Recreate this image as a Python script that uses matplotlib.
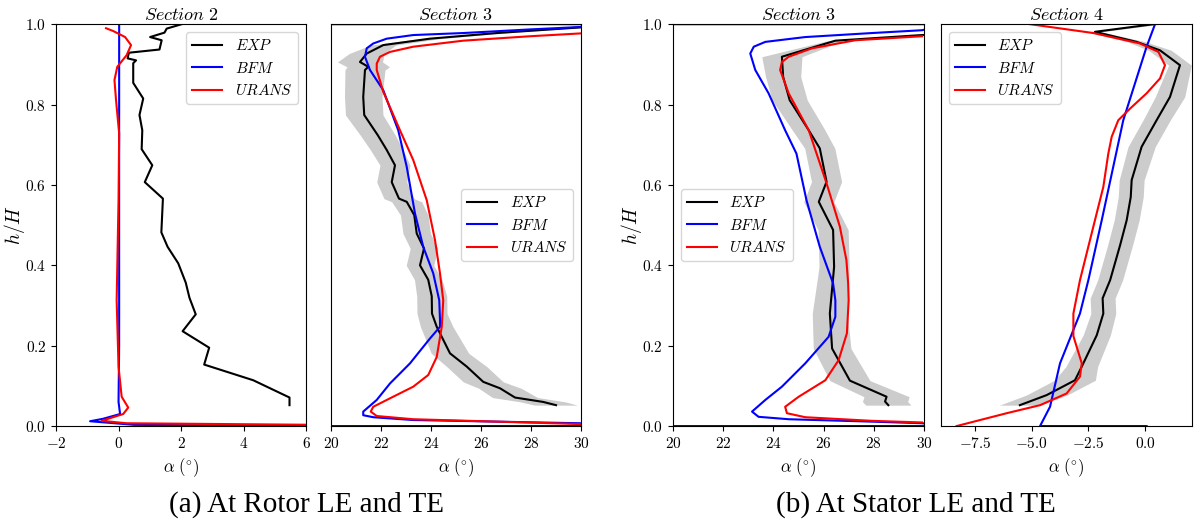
import numpy as np
import matplotlib
matplotlib.use('Agg')
import matplotlib.pyplot as plt

plt.rcParams['font.family'] = 'serif'
plt.rcParams['font.serif'] = ['cmr10']
plt.rcParams['mathtext.fontset'] = 'cm'
plt.rcParams['axes.formatter.use_mathtext'] = True
plt.rcParams['axes.unicode_minus'] = True

# ---- Section 2 (rotor LE) ----
s2_exp_x = [5.47, 5.47, 4.31, 2.74, 2.90, 2.05, 2.47, 2.27, 2.15, 1.91, 1.57, 1.37, 1.42, 0.84,
            1.08, 0.74, 0.76, 0.67, 0.79, 0.47, 0.47, 0.56, 0.29, 0.33, 1.31, 1.38, 1.01, 1.47,
            1.54, 2.02]
s2_exp_y = [0.052, 0.071, 0.114, 0.153, 0.195, 0.236, 0.278, 0.319, 0.357, 0.405, 0.446, 0.482,
            0.566, 0.607, 0.649, 0.689, 0.736, 0.774, 0.815, 0.854, 0.903, 0.910, 0.915, 0.929,
            0.937, 0.960, 0.968, 0.979, 0.989, 1.0]
s2_bfm_x = [6.5, 0.5, -0.91, -0.5, 0.05, 0.0, 0.02, 0.02]
s2_bfm_y = [0.0, 0.003, 0.012, 0.018, 0.03, 0.06, 0.2, 1.0]
s2_urans_x = [6.5, 0.26, -0.54, 0.15, 0.31, 0.10, 0.0, -0.06, 0.0, 0.02, -0.08, -0.13, -0.04,
              0.26, 0.40, 0.21, -0.17, -0.40]
s2_urans_y = [0.003, 0.007, 0.013, 0.030, 0.046, 0.073, 0.148, 0.313, 0.562, 0.728, 0.811,
              0.861, 0.894, 0.923, 0.948, 0.968, 0.983, 0.99]

# ---- Section 3 (rotor TE) ----
s3r_exp_x = [29.0, 28.49, 27.36, 26.76, 26.09, 25.43, 24.76, 24.23, 24.04, 24.03, 23.89, 23.56,
             23.72, 23.43, 23.33, 23.03, 22.72, 22.43, 22.56, 22.23, 21.87, 21.33, 21.29, 21.36,
             21.49, 21.16, 21.43, 22.09, 23.96, 26.63, 29.96, 31.0]
s3r_exp_y = [0.052, 0.060, 0.071, 0.094, 0.110, 0.148, 0.181, 0.247, 0.280, 0.323, 0.364, 0.400,
             0.442, 0.479, 0.525, 0.558, 0.566, 0.607, 0.649, 0.687, 0.724, 0.774, 0.819, 0.886,
             0.894, 0.906, 0.927, 0.948, 0.964, 0.978, 0.992, 0.995]
s3r_exp_err = [0.85, 0.9, 0.9, 0.85, 0.8, 0.8, 0.75, 0.65, 0.6, 0.6, 0.55, 0.55, 0.55, 0.55, 0.55,
               0.6, 0.6, 0.6, 0.6, 0.65, 0.7, 0.75, 0.75, 0.8, 0.85, 0.9, 0.7, 0.5, 0.4, 0.3,
               0.2, 0.2]
s3r_bfm_x = [19.0, 31.0, 29.96, 26.63, 23.29, 21.69, 21.29, 21.29, 21.83, 22.36, 23.16, 23.96,
             24.36, 24.36, 24.33, 24.09, 23.69, 23.36, 23.03, 22.69, 22.09, 21.56, 21.36, 21.43,
             21.69, 22.23, 23.29, 25.29, 27.96, 29.96, 31.0, 19.0]
s3r_bfm_y = [0.0, 0.0, 0.007, 0.011, 0.015, 0.022, 0.027, 0.036, 0.065, 0.106, 0.156, 0.218,
             0.247, 0.264, 0.313, 0.380, 0.446, 0.529, 0.645, 0.736, 0.836, 0.886, 0.919, 0.940,
             0.952, 0.964, 0.973, 0.978, 0.987, 0.993, 1.0, 1.0]
s3r_urans_x = [29.96, 26.63, 23.29, 21.83, 21.59, 21.69, 22.36, 23.29, 23.89, 24.23, 24.43, 24.49,
               24.36, 24.16, 23.83, 23.29, 22.76, 22.09, 21.83, 21.83, 21.96, 22.36, 23.29, 25.29,
               27.96, 29.96]
s3r_urans_y = [0.005, 0.011, 0.017, 0.025, 0.036, 0.048, 0.069, 0.098, 0.127, 0.172, 0.247,
               0.313, 0.380, 0.463, 0.562, 0.662, 0.736, 0.832, 0.886, 0.902, 0.919, 0.931,
               0.944, 0.959, 0.970, 0.977]

# ---- Section 3 (stator LE) ----
s3s_exp_x = [28.58, 28.45, 28.51, 27.05, 26.34, 26.25, 26.42, 26.38, 25.81, 26.12, 25.85, 25.41,
             24.65, 24.39, 24.34, 26.47, 29.92, 31.0]
s3s_exp_y = [0.052, 0.061, 0.073, 0.113, 0.193, 0.280, 0.396, 0.488, 0.558, 0.608, 0.691, 0.736,
             0.811, 0.869, 0.919, 0.959, 0.973, 0.975]
s3s_exp_err = [0.9, 0.9, 0.9, 0.8, 0.75, 0.7, 0.6, 0.6, 0.6, 0.6, 0.6, 0.65, 0.7, 0.7, 0.8, 0.3,
               0.2, 0.2]
s3s_bfm_x = [19.0, 31.0, 29.92, 27.93, 24.61, 23.41, 23.15, 23.68, 24.34, 25.27, 26.20, 26.47,
             26.47, 26.38, 25.85, 25.32, 24.92, 24.47, 23.81, 23.28, 23.08, 23.22, 23.68, 25.27,
             27.93, 29.92, 31.0, 19.0]
s3s_bfm_y = [0.0, 0.0, 0.007, 0.011, 0.017, 0.023, 0.036, 0.065, 0.098, 0.156, 0.222, 0.272,
             0.313, 0.355, 0.446, 0.562, 0.678, 0.736, 0.828, 0.886, 0.927, 0.944, 0.956, 0.968,
             0.978, 0.985, 1.0, 1.0]
s3s_urans_x = [29.92, 27.93, 25.27, 24.54, 24.47, 25.01, 26.07, 26.60, 26.93, 27.0, 26.98, 26.91,
               26.65, 26.12, 25.41, 24.61, 24.27, 24.34, 24.61, 25.54, 27.26, 29.92]
s3s_urans_y = [0.009, 0.013, 0.022, 0.032, 0.048, 0.073, 0.114, 0.164, 0.231, 0.313, 0.355,
               0.413, 0.496, 0.604, 0.736, 0.828, 0.886, 0.906, 0.919, 0.940, 0.960, 0.970]

# ---- Section 4 (stator TE) ----
s4_exp_x = [-5.52, -4.34, -3.09, -2.79, -2.13, -1.84, -1.87, -1.54, -1.10, -0.81, -0.63, -0.59,
            -0.15, 0.51, 1.10, 1.54, 0.66, -0.37, -2.21, 0.37]
s4_exp_y = [0.052, 0.077, 0.114, 0.148, 0.226, 0.280, 0.318, 0.363, 0.450, 0.512, 0.570, 0.612,
            0.695, 0.761, 0.819, 0.898, 0.935, 0.956, 0.981, 1.0]
s4_exp_err = [0.9, 0.9, 0.9, 0.7, 0.6, 0.55, 0.55, 0.55, 0.55, 0.55, 0.55, 0.55, 0.6, 0.6, 0.65,
              0.5, 0.5, 0.4, 0.3, 0.3]
s4_bfm_x = [0.07, -4.63, -4.19, -3.75, -2.87, -2.50, -1.91, -0.96, 0.07, 0.44]
s4_bfm_y = [0.0, 0.0, 0.048, 0.156, 0.280, 0.363, 0.512, 0.761, 0.944, 1.0]
s4_urans_x = [-8.31, -6.10, -4.63, -3.46, -2.87, -2.79, -3.16, -3.16, -2.87, -2.21, -1.84, -1.62,
              -1.47, -1.18, -0.66, 0.07, 0.66, 0.88, 0.59, -0.22, -2.28, -5.07]
s4_urans_y = [0.0, 0.032, 0.052, 0.081, 0.123, 0.156, 0.224, 0.280, 0.363, 0.512, 0.595, 0.678,
              0.720, 0.761, 0.790, 0.828, 0.865, 0.898, 0.931, 0.952, 0.978, 1.0]

fig = plt.figure(figsize=(11.97, 5.26), dpi=100)
bot, hgt = 0.190, 0.764
ax1 = fig.add_axes([0.0468, bot, 0.2089, hgt])
ax2 = fig.add_axes([0.2765, bot, 0.2089, hgt])
ax3 = fig.add_axes([0.5622, bot, 0.2097, hgt])
ax4 = fig.add_axes([0.7861, bot, 0.2097, hgt])

panels = [
    (ax1, r'$Section\ 2$', s2_exp_x, s2_exp_y, None, s2_bfm_x, s2_bfm_y, s2_urans_x, s2_urans_y,
     (-2, 6), 'upper right'),
    (ax2, r'$Section\ 3$', s3r_exp_x, s3r_exp_y, s3r_exp_err, s3r_bfm_x, s3r_bfm_y, s3r_urans_x,
     s3r_urans_y, (20, 30), 'center right'),
    (ax3, r'$Section\ 3$', s3s_exp_x, s3s_exp_y, s3s_exp_err, s3s_bfm_x, s3s_bfm_y, s3s_urans_x,
     s3s_urans_y, (20, 30), 'center left'),
    (ax4, r'$Section\ 4$', s4_exp_x, s4_exp_y, s4_exp_err, s4_bfm_x, s4_bfm_y, s4_urans_x,
     s4_urans_y, (-9.0, 2.07), 'upper left'),
]

for ax, title, ex, ey, err, bx, by, ux, uy, xl, loc in panels:
    if err is not None:
        ex_a = np.array(ex)
        er_a = np.array(err)
        ax.fill_betweenx(ey, ex_a - er_a, ex_a + er_a, color='#cccccc', lw=0)
    ax.plot(ex, ey, color='k', lw=1.5, label=r'$EXP$')
    ax.plot(bx, by, color='b', lw=1.5, label=r'$BFM$')
    ax.plot(ux, uy, color='r', lw=1.5, label=r'$URANS$')
    ax.set_xlim(xl)
    ax.set_ylim(0, 1)
    ax.set_title(title, fontsize=13, pad=3)
    ax.set_xlabel(r'$\alpha\ (^{\circ})$', fontsize=12)
    ax.tick_params(labelsize=11)
    ax.legend(loc=loc, fontsize=11)

for ax in (ax1, ax3):
    ax.set_ylabel(r'$h/H$', fontsize=14)
    ax.yaxis.set_label_coords(-0.115, 0.5)
for ax in (ax2, ax4):
    ax.tick_params(left=False, labelleft=False)

ax1.set_xticks([-2, 0, 2, 4, 6])
ax2.set_xticks([20, 22, 24, 26, 28, 30])
ax3.set_xticks([20, 22, 24, 26, 28, 30])
ax4.set_xticks([-7.5, -5.0, -2.5, 0.0])

fig.text(0.256, 0.04, '(a) At Rotor LE and TE', ha='center', va='center',
         family='Liberation Serif', fontsize=21)
fig.text(0.765, 0.04, '(b) At Stator LE and TE', ha='center', va='center',
         family='Liberation Serif', fontsize=21)

fig.savefig('out.png', dpi=100)
